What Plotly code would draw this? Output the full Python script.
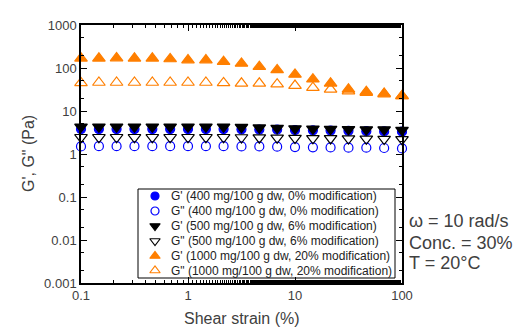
import plotly.graph_objects as go

strain = [0.1, 0.147, 0.215, 0.316, 0.464, 0.681, 1.0, 1.47, 2.15, 3.16,
          4.64, 6.81, 10.0, 14.7, 21.5, 31.6, 46.4, 68.1, 100.0]

g1_400 = [3.8, 3.8, 3.8, 3.8, 3.8, 3.8, 3.8, 3.8, 3.8, 3.75,
          3.7, 3.7, 3.6, 3.55, 3.5, 3.45, 3.4, 3.35, 3.3]
g2_400 = [1.5, 1.52, 1.52, 1.52, 1.52, 1.52, 1.52, 1.52, 1.52, 1.5,
          1.5, 1.48, 1.45, 1.43, 1.42, 1.4, 1.4, 1.38, 1.35]
g1_500 = [4.3, 4.3, 4.3, 4.3, 4.3, 4.3, 4.3, 4.3, 4.3, 4.2,
          4.1, 4.0, 3.9, 3.85, 3.8, 3.75, 3.7, 3.7, 3.6]
g2_500 = [2.45, 2.45, 2.45, 2.45, 2.45, 2.45, 2.45, 2.45, 2.45, 2.42,
          2.4, 2.38, 2.35, 2.32, 2.3, 2.28, 2.25, 2.22, 2.2]
g1_1000 = [168, 168, 170, 168, 168, 162, 153, 153, 140, 128,
           107, 90, 71, 55, 44, 32, 28, 25.5, 22.5]
g2_1000 = [45, 46, 46, 46, 46, 46, 46, 46, 45, 44,
           44, 42, 39, 35, 32, 29, 26.7, 24.8, 22.4]

names = ["G' (400 mg/100 g dw, 0% modification)",
         "G\" (400 mg/100 g dw, 0% modification)",
         "G' (500 mg/100 g dw, 6% modification)",
         "G\" (500 mg/100 g dw, 6% modification)",
         "G' (1000 mg/100 g dw, 20% modification)",
         "G\" (1000 mg/100 g dw, 20% modification)"]

y_ticks = [0.001, 0.01, 0.1, 1, 10, 100, 1000]
y_ticktext = ["0.001", "0.01", "0.1", "1", "10", "100", "1000"]
x_ticks = [0.1, 1, 10, 100]
x_ticktext = ["0.1", "1", "10", "100"]

x_title = "Shear strain (%)"
y_title = "G', G\" (Pa)"
notes = ["\u03c9 = 10 rad/s", "Conc. = 30%", "T = 20\u00b0C"]

BLUE = "#0000ff"
ORANGE = "#ff7f00"
BLACK = "#000000"

series = [
    (g1_400, "circle", BLUE, 9, 8),
    (g2_400, "circle-open", BLUE, 9, 8),
    (g1_500, "triangle-down", BLACK, 11, 9),
    (g2_500, "triangle-down-open", BLACK, 11, 9),
    (g1_1000, "triangle-up", ORANGE, 11, 9),
    (g2_1000, "triangle-up-open", ORANGE, 11, 9),
]

FONT = "Liberation Sans, Arial, sans-serif"
TXT = "#404040"

# plot frame in page pixels
L, R, T, B = 81, 402, 25, 283
W, H = 515, 328

fig = go.Figure()
for (vals, sym, col, sz, lsz), nm in zip(series, names):
    fig.add_trace(go.Scatter(
        x=strain, y=vals, mode="markers", name=nm, showlegend=False,
        marker=dict(symbol=sym, color=col, size=sz,
                    line=dict(color=col, width=1.2)),
        cliponaxis=False,
    ))

# hand-built legend (pixel-space overlay axes)
leg_left, leg_right, leg_top, leg_bottom = 138, 395, 189, 278
row_y = [196, 211, 226, 241, 256, 270.5]
mark_x = 155
text_x = 169

fig.add_shape(type="rect", xref="x2", yref="y2",
              x0=leg_left, x1=leg_right, y0=leg_top, y1=leg_bottom,
              line=dict(color="#000000", width=1), fillcolor="white", layer="below")
for (vals, sym, col, sz, lsz), nm, ry in zip(series, names, row_y):
    fig.add_trace(go.Scatter(
        x=[mark_x], y=[ry], xaxis="x2", yaxis="y2", mode="markers",
        showlegend=False, hoverinfo="skip",
        marker=dict(symbol=sym, color=col, size=lsz, line=dict(color=col, width=1.2)),
    ))
    fig.add_annotation(text=nm, xref="x2", yref="y2", x=text_x, y=ry,
                       xanchor="left", yanchor="middle", showarrow=False,
                       font=dict(family=FONT, size=12, color="#222222"))

axis_common = dict(
    type="log", showline=True, linecolor="#000000", linewidth=1.5,
    mirror="ticks", ticks="inside", ticklen=6, tickwidth=1, tickcolor="#000000",
    showgrid=False, zeroline=False,
    tickfont=dict(family=FONT, size=13, color=TXT),
    minor=dict(ticks="inside", ticklen=3, tickwidth=1, tickcolor="#000000", showgrid=False),
)

fig.update_layout(
    xaxis=dict(**axis_common, range=[-1, 2], tickvals=x_ticks, ticktext=x_ticktext),
    yaxis=dict(**axis_common, range=[-3, 3], tickvals=y_ticks, ticktext=y_ticktext),
    xaxis2=dict(overlaying="x", range=[L, R], visible=False, fixedrange=True),
    yaxis2=dict(overlaying="y", range=[B, T], visible=False, fixedrange=True),
)

# axis titles
fig.add_annotation(text=x_title, xref="paper", yref="paper",
                   x=0.5, y=(B - 318) / (B - T), xanchor="center", yanchor="middle",
                   showarrow=False, font=dict(family=FONT, size=16, color=TXT))
fig.add_annotation(text=y_title, xref="paper", yref="paper",
                   x=(28 - L) / (R - L), y=0.5, xanchor="center", yanchor="middle",
                   textangle=-90, showarrow=False, font=dict(family=FONT, size=16, color=TXT))

for t, yy in zip(notes, [221, 243, 263]):
    fig.add_annotation(text=t, xref="paper", yref="paper",
                       x=(407 - L) / (R - L), y=(B - yy) / (B - T),
                       xanchor="left", yanchor="middle", showarrow=False,
                       font=dict(family=FONT, size=18, color=TXT))

fig.update_layout(
    width=W, height=H,
    margin=dict(l=L, r=W - R, t=T, b=H - B),
    paper_bgcolor="white", plot_bgcolor="white",
    showlegend=False,
)

fig.write_html("out.html", config={"displayModeBar": False},
               post_script="document.body.style.margin='0';document.body.style.overflow='hidden';")
